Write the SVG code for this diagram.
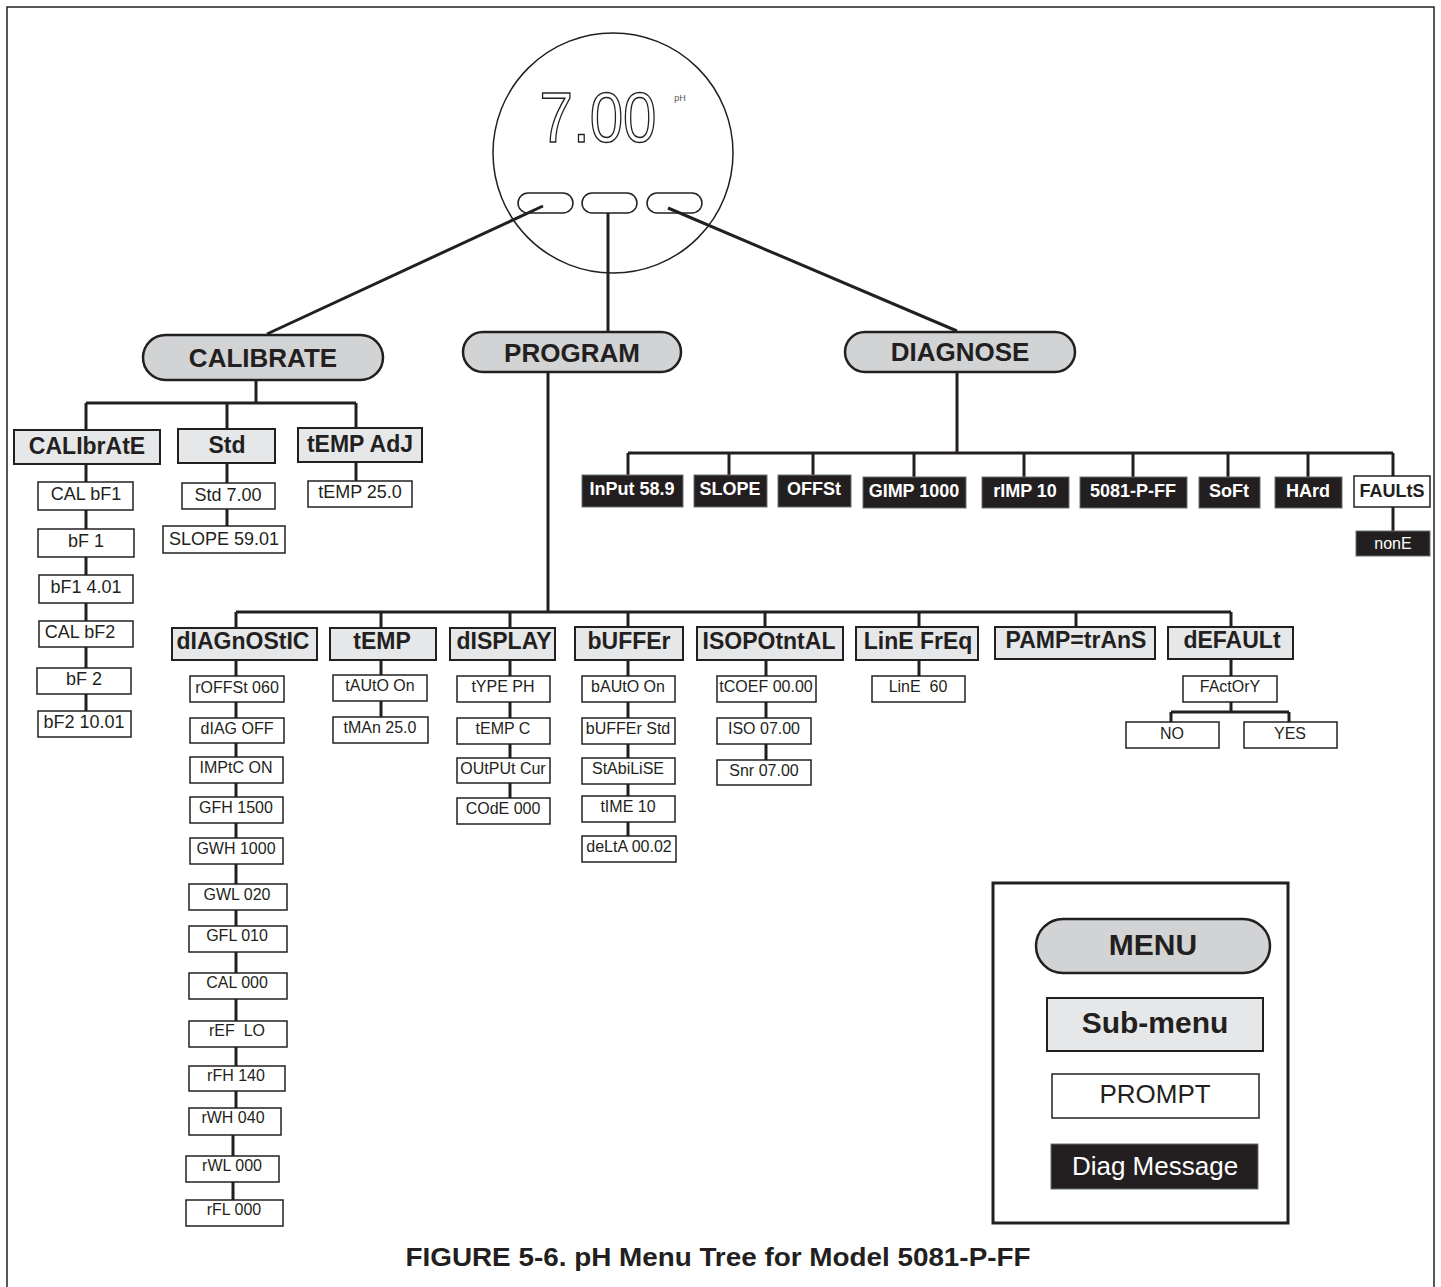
<svg xmlns="http://www.w3.org/2000/svg" width="1441" height="1287" viewBox="0 0 1441 1287">
<style>
text{font-family:"Liberation Sans",Arial,sans-serif;text-anchor:middle;fill:#231f20}
.pill{fill:#d1d3d4;stroke:#231f20;stroke-width:2.5}
.sub{fill:#e6e7e8;stroke:#231f20;stroke-width:2}
.prm{fill:#fff;stroke:#231f20;stroke-width:1.5}
.dg{fill:#231f20;stroke:#6d6e71;stroke-width:1}
.conn{stroke:#231f20;stroke-width:3;fill:none}
.tp{font-size:26px;font-weight:bold}
.ts{font-size:23px;font-weight:bold}
.tc{font-size:18px}
.tq{font-size:16px}
.td{font-size:18px;font-weight:bold;fill:#fff}
.pre{white-space:pre}
</style>
<rect x="0" y="0" width="1441" height="1287" fill="#fff"/>
<path d="M7,1287 V7 H1434 V1287" fill="none" stroke="#231f20" stroke-width="1.5"/>

<g id="display">
<circle cx="613" cy="153" r="120" fill="#fff" stroke="#231f20" stroke-width="1.5"/>
<text x="598" y="142" font-size="70" textLength="117" lengthAdjust="spacingAndGlyphs" style="fill:none;stroke:#231f20;stroke-width:1.5">7.00</text>
<text x="680" y="101" font-size="9" style="fill:#555">pH</text>
<rect x="518" y="193" width="55" height="20" rx="10" fill="#fff" stroke="#231f20" stroke-width="1.5"/>
<rect x="582" y="193" width="55" height="20" rx="10" fill="#fff" stroke="#231f20" stroke-width="1.5"/>
<rect x="647" y="193" width="55" height="20" rx="10" fill="#fff" stroke="#231f20" stroke-width="1.5"/>
</g>

<g id="connectors" class="conn">
<path d="M543,206 L267,334 M608,213 V332 M668,208 L957,331"/>
<path d="M256,380 V403 M86,403 H356 M86,403 V430 M227,403 V429 M356,403 V428"/>
<path d="M86,464 V711 M227,463 V526 M356,462 V481"/>
<path d="M548,372 V612 M236,612 H1231 M236,612 V628 M381,612 V628 M510,612 V628 M628,612 V627 M765,612 V627 M919,612 V627 M1076,612 V627 M1231,612 V627"/>
<path d="M236,660 V1135 M233,1130 V1200 M381,660 V717 M510,660 V798 M628,660 V836 M766,660 V760 M919,660 V676"/>
<path d="M1231,659 V712 M1171,712 H1289 M1171,712 V722 M1289,712 V722"/>
<path d="M957,372 V453 M628,453 H1393 M628,453 V475 M729,453 V475 M813,453 V475 M914,453 V477 M1024,453 V477 M1133,453 V477 M1228,453 V477 M1308,453 V477 M1393,453 V476 M1393,507 V531"/>
</g>

<g id="calibrate"><rect class="pill" x="143" y="335" width="240" height="45" rx="22.5"/><text class="tp" x="263" y="367">CALIBRATE</text></g>
<g id="program"><rect class="pill" x="463" y="332" width="218" height="40" rx="20"/><text class="tp" x="572" y="362">PROGRAM</text></g>
<g id="diagnose"><rect class="pill" x="845" y="332" width="230" height="40" rx="20"/><text class="tp" x="960" y="361">DIAGNOSE</text></g>

<g id="cal-calibrate"><rect class="sub" x="14" y="430" width="146" height="34"/><text class="ts" x="87" y="454">CALIbrAtE</text></g>
<g id="cal-std"><rect class="sub" x="178" y="429" width="97" height="34"/><text class="ts" x="227" y="453">Std</text></g>
<g id="cal-tempadj"><rect class="sub" x="298" y="428" width="124" height="34"/><text class="ts" x="360" y="452">tEMP AdJ</text></g>

<g id="p-calbf1"><rect class="prm" x="38" y="482" width="95" height="28"/><text class="tc" x="86" y="500">CAL bF1</text></g>
<g id="p-bf1"><rect class="prm" x="38" y="529" width="96" height="28"/><text class="tc" x="86" y="547">bF 1</text></g>
<g id="p-bf1val"><rect class="prm" x="39" y="575" width="94" height="28"/><text class="tc" x="86" y="593">bF1 4.01</text></g>
<g id="p-calbf2"><rect class="prm" x="39" y="621" width="94" height="26"/><text class="tc" x="80" y="638">CAL bF2</text></g>
<g id="p-bf2"><rect class="prm" x="37" y="668" width="94" height="26"/><text class="tc" x="84" y="685">bF 2</text></g>
<g id="p-bf2val"><rect class="prm" x="38" y="711" width="93" height="26"/><text class="tc" x="84" y="728">bF2 10.01</text></g>
<g id="p-std700"><rect class="prm" x="182" y="483" width="93" height="26"/><text class="tc" x="228" y="501">Std 7.00</text></g>
<g id="p-slope5901"><rect class="prm" x="163" y="526" width="122" height="27"/><text class="tc" x="224" y="545">SLOPE 59.01</text></g>
<g id="p-temp250"><rect class="prm" x="308" y="481" width="104" height="26"/><text class="tc" x="360" y="498">tEMP 25.0</text></g>

<g id="s-diagnostic"><rect class="sub" x="172" y="628" width="145" height="32"/><text class="ts" x="243" y="649">dIAGnOStIC</text></g>
<g id="s-temp"><rect class="sub" x="330" y="628" width="106" height="32"/><text class="ts" x="382" y="649">tEMP</text></g>
<g id="s-display"><rect class="sub" x="450" y="628" width="105" height="32"/><text class="ts" x="504" y="649">dISPLAY</text></g>
<g id="s-buffer"><rect class="sub" x="575" y="627" width="108" height="33"/><text class="ts" x="629" y="649">bUFFEr</text></g>
<g id="s-isopotntal"><rect class="sub" x="697" y="627" width="146" height="33"/><text class="ts" x="769" y="649">ISOPOtntAL</text></g>
<g id="s-linefreq"><rect class="sub" x="856" y="627" width="122" height="33"/><text class="ts" x="918" y="649">LinE FrEq</text></g>
<g id="s-pamp"><rect class="sub" x="995" y="627" width="160" height="32"/><text class="ts" x="1076" y="648">PAMP=trAnS</text></g>
<g id="s-default"><rect class="sub" x="1168" y="627" width="125" height="32"/><text class="ts" x="1232" y="648">dEFAULt</text></g>

<g id="d-roffst"><rect class="prm" x="190" y="676" width="94" height="26"/><text class="tq" x="237" y="693">rOFFSt 060</text></g>
<g id="d-diag"><rect class="prm" x="190" y="718" width="94" height="25"/><text class="tq" x="237" y="734">dIAG OFF</text></g>
<g id="d-impt"><rect class="prm" x="190" y="757" width="93" height="26"/><text class="tq" x="236" y="773">IMPtC ON</text></g>
<g id="d-gfh"><rect class="prm" x="190" y="797" width="93" height="26"/><text class="tq" x="236" y="813">GFH 1500</text></g>
<g id="d-gwh"><rect class="prm" x="190" y="838" width="93" height="26"/><text class="tq" x="236" y="854">GWH 1000</text></g>
<g id="d-gwl"><rect class="prm" x="189" y="884" width="98" height="26"/><text class="tq" x="237" y="900">GWL 020</text></g>
<g id="d-gfl"><rect class="prm" x="189" y="926" width="98" height="26"/><text class="tq" x="237" y="941">GFL 010</text></g>
<g id="d-cal"><rect class="prm" x="189" y="973" width="98" height="26"/><text class="tq" x="237" y="988">CAL 000</text></g>
<g id="d-ref"><rect class="prm" x="189" y="1021" width="98" height="26"/><text class="tq pre" x="237" y="1036">rEF  LO</text></g>
<g id="d-rfh"><rect class="prm" x="189" y="1066" width="96" height="25"/><text class="tq" x="236" y="1081">rFH 140</text></g>
<g id="d-rwh"><rect class="prm" x="189" y="1108" width="92" height="27"/><text class="tq" x="233" y="1123">rWH 040</text></g>
<g id="d-rwl"><rect class="prm" x="186" y="1156" width="93" height="26"/><text class="tq" x="232" y="1171">rWL 000</text></g>
<g id="d-rfl"><rect class="prm" x="186" y="1200" width="97" height="26"/><text class="tq" x="234" y="1215">rFL 000</text></g>

<g id="t-tauto"><rect class="prm" x="333" y="675" width="94" height="26"/><text class="tq" x="380" y="691">tAUtO On</text></g>
<g id="t-tman"><rect class="prm" x="333" y="717" width="95" height="26"/><text class="tq" x="380" y="733">tMAn 25.0</text></g>

<g id="ds-type"><rect class="prm" x="457" y="676" width="93" height="26"/><text class="tq" x="503" y="692">tYPE PH</text></g>
<g id="ds-temp"><rect class="prm" x="457" y="718" width="93" height="26"/><text class="tq" x="503" y="734">tEMP C</text></g>
<g id="ds-output"><rect class="prm" x="457" y="758" width="93" height="25"/><text class="tq" x="503" y="774">OUtPUt Cur</text></g>
<g id="ds-code"><rect class="prm" x="457" y="798" width="93" height="26"/><text class="tq" x="503" y="814">COdE 000</text></g>

<g id="b-bauto"><rect class="prm" x="582" y="676" width="93" height="26"/><text class="tq" x="628" y="692">bAUtO On</text></g>
<g id="b-bufstd"><rect class="prm" x="582" y="718" width="93" height="26"/><text class="tq" x="628" y="734">bUFFEr Std</text></g>
<g id="b-stab"><rect class="prm" x="582" y="758" width="93" height="26"/><text class="tq" x="628" y="774">StAbiLiSE</text></g>
<g id="b-time"><rect class="prm" x="582" y="796" width="93" height="26"/><text class="tq" x="628" y="812">tIME 10</text></g>
<g id="b-delta"><rect class="prm" x="582" y="836" width="94" height="26"/><text class="tq" x="629" y="852">deLtA 00.02</text></g>

<g id="i-tcoef"><rect class="prm" x="717" y="676" width="99" height="26"/><text class="tq" x="766" y="692">tCOEF 00.00</text></g>
<g id="i-iso"><rect class="prm" x="717" y="718" width="94" height="26"/><text class="tq" x="764" y="734">ISO 07.00</text></g>
<g id="i-snr"><rect class="prm" x="717" y="760" width="94" height="25"/><text class="tq" x="764" y="776">Snr 07.00</text></g>

<g id="l-line60"><rect class="prm" x="872" y="676" width="93" height="26"/><text class="tq pre" x="918" y="692">LinE  60</text></g>

<g id="f-factory"><rect class="prm" x="1183" y="676" width="94" height="26"/><text class="tq" x="1230" y="692">FActOrY</text></g>
<g id="f-no"><rect class="prm" x="1126" y="722" width="93" height="26"/><text class="tq" x="1172" y="739">NO</text></g>
<g id="f-yes"><rect class="prm" x="1244" y="722" width="93" height="26"/><text class="tq" x="1290" y="739">YES</text></g>

<g id="m-input"><rect class="dg" x="582" y="475" width="101" height="32"/><text class="td" x="632" y="495">InPut 58.9</text></g>
<g id="m-slope"><rect class="dg" x="694" y="475" width="73" height="32"/><text class="td" x="730" y="495">SLOPE</text></g>
<g id="m-offst"><rect class="dg" x="778" y="475" width="73" height="32"/><text class="td" x="814" y="495">OFFSt</text></g>
<g id="m-gimp"><rect class="dg" x="863" y="477" width="103" height="31"/><text class="td" x="914" y="497">GIMP 1000</text></g>
<g id="m-rimp"><rect class="dg" x="982" y="477" width="87" height="31"/><text class="td" x="1025" y="497">rIMP 10</text></g>
<g id="m-model"><rect class="dg" x="1080" y="477" width="107" height="31"/><text class="td" x="1133" y="497">5081-P-FF</text></g>
<g id="m-soft"><rect class="dg" x="1199" y="477" width="61" height="31"/><text class="td" x="1229" y="497">SoFt</text></g>
<g id="m-hard"><rect class="dg" x="1275" y="477" width="67" height="31"/><text class="td" x="1308" y="497">HArd</text></g>
<g id="m-faults"><rect class="prm" x="1354" y="476" width="76" height="31"/><text class="td" x="1392" y="497" style="fill:#231f20">FAULtS</text></g>
<g id="m-none"><rect class="dg" x="1356" y="531" width="74" height="25"/><text class="tq" x="1393" y="549" style="fill:#fff">nonE</text></g>

<g id="legend">
<rect x="993" y="883" width="295" height="340" fill="#fff" stroke="#231f20" stroke-width="3"/>
<rect class="pill" x="1036" y="919" width="234" height="54" rx="27"/>
<text x="1153" y="955" font-size="30" font-weight="bold">MENU</text>
<rect class="sub" x="1047" y="998" width="216" height="53" stroke-width="2.5"/>
<text x="1155" y="1033" font-size="30" font-weight="bold">Sub-menu</text>
<rect class="prm" x="1052" y="1074" width="207" height="44" stroke-width="2"/>
<text x="1155" y="1103" font-size="26">PROMPT</text>
<rect class="dg" x="1051" y="1144" width="207" height="45"/>
<text x="1155" y="1175" font-size="26" style="fill:#fff">Diag Message</text>
</g>

<text id="caption" x="718" y="1266" font-size="26" font-weight="bold" textLength="625" lengthAdjust="spacingAndGlyphs">FIGURE 5-6. pH Menu Tree for Model 5081-P-FF</text>
</svg>
